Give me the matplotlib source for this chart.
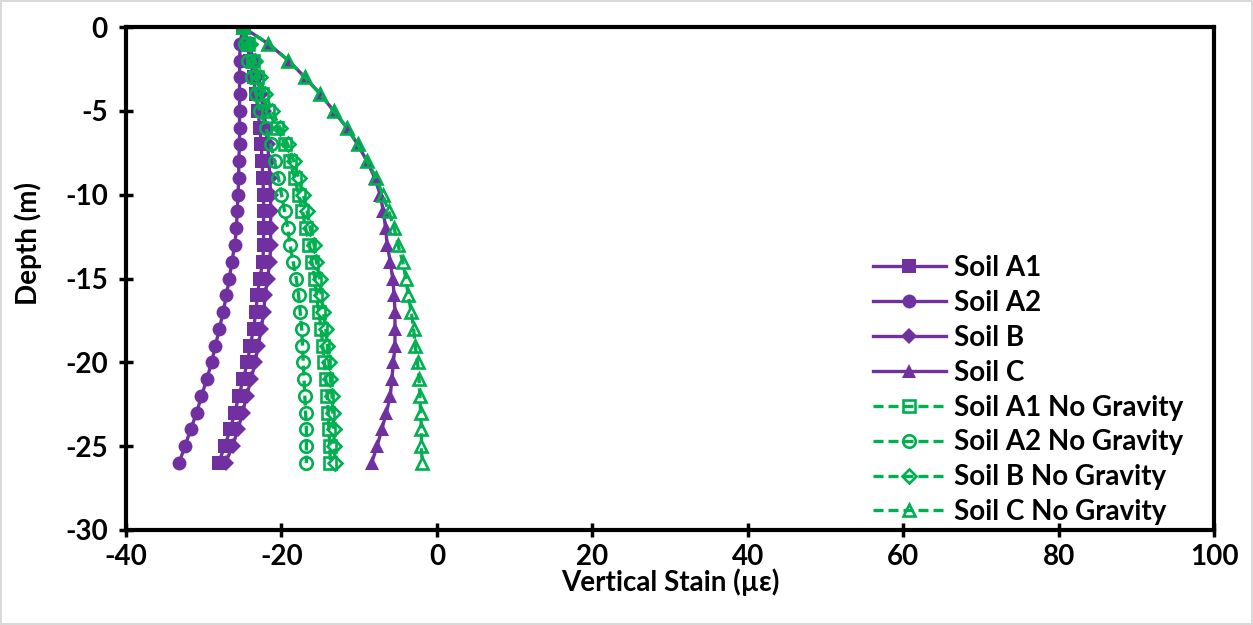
import numpy as np
from matplotlib import pyplot as plt

depth = np.arange(0, -27, -1)

soil_a1 = [-25.0, -24.5, -24.0, -23.6, -23.3, -23.0, -22.8, -22.6, -22.5, -22.4, -22.3, -22.3, -22.3, -22.3,
           -22.4, -22.8, -23.1, -23.3, -23.6, -24.0, -24.4, -24.9, -25.5, -26.0, -26.6, -27.3, -28.1]
soil_a2 = [-25.0, -25.3, -25.4, -25.4, -25.4, -25.4, -25.4, -25.4, -25.5, -25.5, -25.6, -25.7, -25.8, -26.0,
           -26.4, -26.7, -27.1, -27.5, -28.0, -28.5, -29.0, -29.6, -30.3, -30.9, -31.7, -32.4, -33.2]
soil_b = [-25.0, -24.2, -23.6, -23.1, -22.7, -22.3, -22.0, -21.8, -21.6, -21.5, -21.4, -21.4, -21.4, -21.4,
          -21.5, -21.8, -22.1, -22.3, -22.6, -23.0, -23.4, -23.9, -24.5, -25.0, -25.6, -26.3, -27.2]
soil_c = [-25.0, -21.7, -19.1, -17.0, -15.0, -13.3, -11.6, -10.2, -9.0, -8.0, -7.3, -6.9, -6.6, -6.4,
          -6.0, -5.7, -5.5, -5.4, -5.4, -5.4, -5.6, -5.8, -6.0, -6.5, -7.1, -7.7, -8.4]
soil_a1_ng = [-25.0, -24.3, -23.7, -23.1, -22.5, -21.7, -20.6, -19.6, -18.9, -18.3, -17.8, -17.3, -16.9, -16.4,
              -16.1, -15.7, -15.5, -15.2, -14.9, -14.7, -14.5, -14.3, -14.1, -14.0, -13.9, -13.8, -13.7]
soil_a2_ng = [-25.0, -24.7, -24.3, -23.8, -23.3, -22.8, -22.0, -21.4, -20.9, -20.4, -20.0, -19.6, -19.2, -18.9,
              -18.5, -18.1, -17.8, -17.6, -17.4, -17.3, -17.2, -17.1, -17.0, -16.9, -16.8, -16.8, -16.8]
soil_b_ng = [-25.0, -24.1, -23.4, -22.8, -22.1, -21.2, -20.2, -19.2, -18.4, -17.8, -17.2, -16.7, -16.3, -15.8,
             -15.5, -15.1, -14.9, -14.6, -14.3, -14.1, -13.9, -13.7, -13.5, -13.4, -13.3, -13.2, -13.1]
soil_c_ng = [-25.0, -21.7, -19.1, -17.0, -15.0, -13.3, -11.6, -10.2, -9.0, -7.8, -7.0, -6.2, -5.5, -5.0,
             -4.4, -4.0, -3.7, -3.3, -3.0, -2.8, -2.5, -2.3, -2.2, -2.1, -2.0, -2.0, -1.9]

purple = '#7030A0'
green = '#00B050'

plt.rcParams['font.family'] = ['Lato', 'DejaVu Sans']
plt.rcParams['font.weight'] = 'bold'
plt.rcParams['axes.unicode_minus'] = False

fig = plt.figure(figsize=(12.53, 6.25), dpi=100)
fig.patch.set_edgecolor('#d9d9d9')
fig.patch.set_linewidth(1.5)
ax = fig.add_axes([0.1006, 0.152, 0.8684, 0.8048])

solid = [(soil_a1, 's', 'Soil A1'), (soil_a2, 'o', 'Soil A2'), (soil_b, 'D', 'Soil B'), (soil_c, '^', 'Soil C')]
for vals, mk, label in solid:
    ax.plot(vals, depth, color=purple, linewidth=2.4, marker=mk, markersize=10 if mk != 'D' else 8,
            markeredgewidth=0, label=label)

open_ = [(soil_a1_ng, 's', 'Soil A1 No Gravity'), (soil_a2_ng, 'o', 'Soil A2 No Gravity'),
         (soil_b_ng, 'D', 'Soil B No Gravity'), (soil_c_ng, '^', 'Soil C No Gravity')]
for vals, mk, label in open_:
    ax.plot(vals, depth, color=green, linewidth=2.4, linestyle=(0, (3, 1.5)), marker=mk,
            markersize=9 if mk != 'D' else 7.5, markerfacecolor='none', markeredgewidth=1.9, label=label)

ax.set_xlim(-40, 100)
ax.set_ylim(-30, 0)
ax.set_xticks(np.arange(-40, 101, 20))
ax.set_yticks(np.arange(-30, 1, 5))
for s in ax.spines.values():
    s.set_linewidth(3)
ax.tick_params(axis='both', direction='inout', length=10, width=2.5, labelsize=20)
ax.tick_params(axis='y', pad=8)
ax.tick_params(axis='x', pad=5)
ax.set_xlabel('Vertical Stain (µε)', fontsize=20, fontweight='bold', labelpad=-1)
ax.set_ylabel('Depth (m)', fontsize=20, fontweight='bold')
ax.yaxis.set_label_coords(-0.077, 0.57)

ax.legend(loc='upper left', bbox_to_anchor=(0.697, 0.592), bbox_transform=fig.transFigure, frameon=False,
          fontsize=20, handlelength=2.6, handletextpad=0.3, labelspacing=0.32, borderpad=0, borderaxespad=0)

fig.savefig('out.png', dpi=100, edgecolor=fig.get_edgecolor())
